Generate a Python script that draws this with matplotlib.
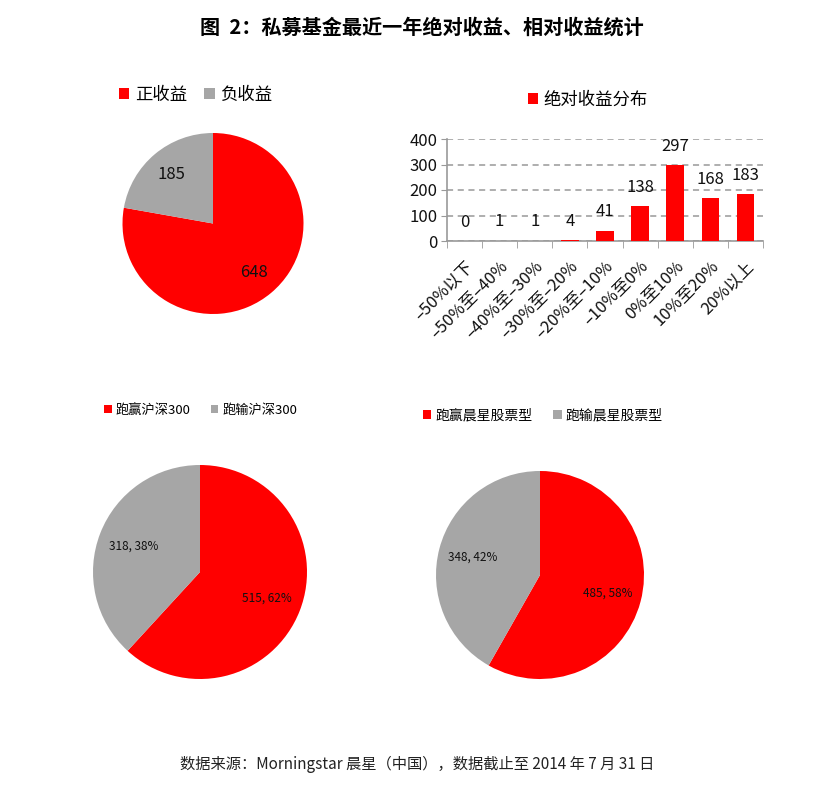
import matplotlib
matplotlib.use("Agg")
import matplotlib.pyplot as plt

plt.rcParams['font.family'] = ['Noto Sans CJK SC', 'DejaVu Sans']

RED = '#FF0000'
GRAY = '#A6A6A6'

title = "图  2：私募基金最近一年绝对收益、相对收益统计"
footer = "数据来源：Morningstar 晨星（中国），数据截止至 2014 年 7 月 31 日"

pie1_labels = ["正收益", "负收益"]
pie1_values = [648, 185]

bar_series = "绝对收益分布"
bar_categories = ["–50%以下", "–50%至–40%", "–40%至–30%", "–30%至–20%", "–20%至–10%",
                  "–10%至0%", "0%至10%", "10%至20%", "20%以上"]
bar_values = [0, 1, 1, 4, 41, 138, 297, 168, 183]
bar_yticks = [0, 100, 200, 300, 400]

pie3_labels = ["跑赢沪深300", "跑输沪深300"]
pie3_values = [515, 318]

pie4_labels = ["跑赢晨星股票型", "跑输晨星股票型"]
pie4_values = [485, 348]

W, H = 815, 788
fig = plt.figure(figsize=(W / 100, H / 100), dpi=100)


def px_axes(left, top, width, height):
    return fig.add_axes([left / W, 1 - (top + height) / H, width / W, height / H])


def fxy(x, y):
    return (x / W, 1 - y / H)


fig.text(*fxy(422, 27), title, ha='center', va='center', fontsize=14.5, fontweight='bold')
fig.text(*fxy(417, 764), footer, ha='center', va='center', fontsize=11, color='#222222')

# ---- Pie 1 ----
cx, cy, r = 213, 223.5, 90.5
ax1 = px_axes(cx - r, cy - r, 2 * r, 2 * r)
w1, t1 = ax1.pie(pie1_values, colors=[RED, GRAY], startangle=90, counterclock=False,
                 labels=[str(v) for v in pie1_values], labeldistance=0.71,
                 wedgeprops=dict(linewidth=0),
                 textprops=dict(fontsize=12, color='#111111'))
for t in t1:
    t.set_ha('center')
    t.set_va('center')
ax1.set_xlim(-1, 1)
ax1.set_ylim(-1, 1)
fig.legend(w1, pie1_labels, loc='center left', bbox_to_anchor=fxy(119, 95), ncol=2,
           frameon=False, fontsize=12.5, handlelength=0.6, handleheight=0.6,
           handletextpad=0.3, columnspacing=1.0, borderpad=0, borderaxespad=0)

# ---- Bar chart ----
axb = px_axes(447, 139, 316, 102)
bars = axb.bar(range(len(bar_values)), bar_values, width=0.5, color=RED, label=bar_series, zorder=3)
axb.set_xlim(-0.5, len(bar_values) - 0.5)
axb.set_ylim(0, 400)
axb.set_yticks(bar_yticks)
axb.set_xticks(range(len(bar_categories)))
axb.set_xticklabels(bar_categories, rotation=45, ha='right', va='top', rotation_mode='anchor')
axb.set_xticks([i - 0.5 for i in range(len(bar_categories) + 1)], minor=True)
axb.tick_params(axis='x', which='major', length=0, labelsize=12, pad=12, labelcolor='#111111')
axb.tick_params(axis='x', which='minor', length=5, color='#999999', direction='out')
axb.tick_params(axis='y', length=4, color='#999999', labelsize=12, pad=3, labelcolor='#111111')
for s in ['top', 'right']:
    axb.spines[s].set_visible(False)
for s in ['left', 'bottom']:
    axb.spines[s].set_color('#999999')
    axb.spines[s].set_linewidth(1.2)
axb.yaxis.grid(True, linestyle=(0, (4, 3)), color='#999999', linewidth=1.1, zorder=0)
axb.set_axisbelow(True)
for b, v in zip(bars, bar_values):
    axb.annotate(str(v), (b.get_x() + b.get_width() / 2, v), xytext=(0, 13.5),
                 textcoords='offset points', ha='center', va='center', fontsize=12,
                 color='#111111')
fig.legend([bars], [bar_series], loc='center left', bbox_to_anchor=fxy(528, 100),
           frameon=False, fontsize=12.5, handlelength=0.6, handleheight=0.6,
           handletextpad=0.3, borderpad=0, borderaxespad=0)


def pct_pie(center, radius, values, labels, legend_xy, legend_fs, colsp):
    cx, cy = center
    ax = px_axes(cx - radius, cy - radius, 2 * radius, 2 * radius)
    total = sum(values)
    texts = [f"{v}, {round(v / total * 100)}%" for v in values]
    w, t = ax.pie(values, colors=[RED, GRAY], startangle=90, counterclock=False,
                  labels=texts, labeldistance=0.67, wedgeprops=dict(linewidth=0),
                  textprops=dict(fontsize=8.5, color='#111111'))
    for tt in t:
        tt.set_ha('center')
        tt.set_va('center')
    ax.set_xlim(-1, 1)
    ax.set_ylim(-1, 1)
    fig.legend(w, labels, loc='center left', bbox_to_anchor=fxy(*legend_xy), ncol=2,
               frameon=False, fontsize=legend_fs, handlelength=0.6, handleheight=0.6,
               handletextpad=0.3, columnspacing=colsp, borderpad=0, borderaxespad=0)


pct_pie((200, 572), 107, pie3_values, pie3_labels, (104, 410), 9.5, 1.5)
pct_pie((540, 575), 104, pie4_values, pie4_labels, (423, 415), 10, 1.5)

fig.savefig("out.png", dpi=100)
